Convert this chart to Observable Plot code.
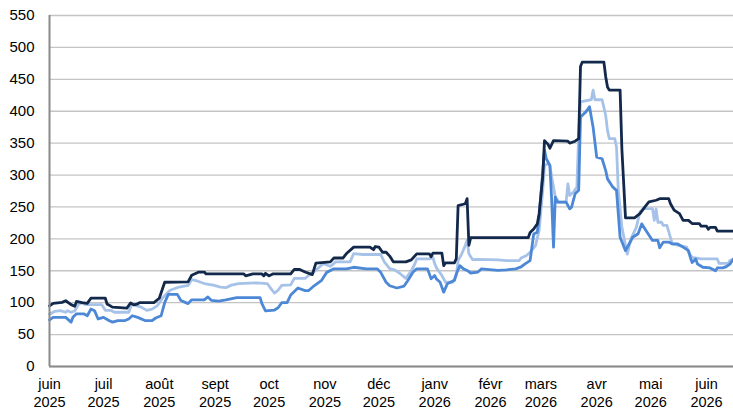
<!DOCTYPE html>
<html><head><meta charset="utf-8">
<script src="https://cdn.jsdelivr.net/npm/d3@7"></script>
<script src="https://cdn.jsdelivr.net/npm/@observablehq/plot@0.6"></script>
<style>body{margin:0;background:#fff;}</style>
</head><body><div id="chart"></div>
<script>
const monthNames = ["janv","févr","mars","avr","mai","juin","juil","août","sept","oct","nov","déc"];
const tickDates = ["2025-06-01","2025-07-01","2025-08-01","2025-09-01","2025-10-01","2025-11-01","2025-12-01","2026-01-01","2026-02-01","2026-03-01","2026-04-01","2026-05-01","2026-06-01"];
const yTicks = [0,50,100,150,200,250,300,350,400,450,500,550];
const xDomain = ["2025-06-01","2026-06-16"];

const dark = [
["2025-06-01",95],["2025-06-03",99],["2025-06-08",100.5],["2025-06-10",103],["2025-06-13",97],["2025-06-15",94.5],["2025-06-16",102],["2025-06-19",100],["2025-06-22",99],["2025-06-24",107],["2025-07-02",107],["2025-07-03",98],["2025-07-06",93],["2025-07-14",91.5],["2025-07-16",99.5],["2025-07-18",96.5],["2025-07-20",98],["2025-07-21",100],["2025-07-29",100],["2025-08-01",107],["2025-08-04",132],["2025-08-17",132.5],["2025-08-19",143],["2025-08-23",148],["2025-08-26",148],["2025-08-27",145],["2025-09-17",145],["2025-09-18",142],["2025-09-22",145],["2025-09-27",145],["2025-09-28",142],["2025-09-29",146],["2025-10-01",142],["2025-10-03",145],["2025-10-13",145],["2025-10-15",152],["2025-10-18",152],["2025-10-21",148],["2025-10-25",144],["2025-10-27",162],["2025-11-04",164],["2025-11-06",170],["2025-11-11",170],["2025-11-13",177],["2025-11-17",187],["2025-11-26",187],["2025-11-28",183],["2025-11-29",188],["2025-12-01",187],["2025-12-03",179],["2025-12-05",179],["2025-12-07",173],["2025-12-09",164],["2025-12-16",164],["2025-12-19",167],["2025-12-22",176.5],["2025-12-29",176.5],["2025-12-30",172],["2025-12-31",177.5],["2026-01-05",177.5],["2026-01-06",158],["2026-01-07",162.5],["2026-01-12",162.5],["2026-01-13",169],["2026-01-14",252],["2026-01-18",255],["2026-01-19",263],["2026-01-20",190],["2026-01-21",202],["2026-02-22",202],["2026-02-23",210],["2026-02-25",215.5],["2026-02-27",223.5],["2026-02-28",239],["2026-03-02",297],["2026-03-03",354],["2026-03-05",348],["2026-03-06",342],["2026-03-08",354],["2026-03-16",353],["2026-03-17",350],["2026-03-20",353],["2026-03-22",357],["2026-03-23",470],["2026-03-24",477],["2026-04-05",477],["2026-04-06",454],["2026-04-07",438],["2026-04-08",433],["2026-04-14",433],["2026-04-15",340],["2026-04-17",233],["2026-04-22",233],["2026-04-25",239.5],["2026-04-28",251],["2026-04-30",258],["2026-05-04",260.5],["2026-05-06",263],["2026-05-11",263],["2026-05-12",255],["2026-05-14",245],["2026-05-17",239.5],["2026-05-19",229],["2026-05-22",229],["2026-05-24",224],["2026-05-28",224],["2026-05-29",220],["2026-06-01",220],["2026-06-02",215],["2026-06-03",218],["2026-06-06",218],["2026-06-07",212],["2026-06-16",212]
];

const light = [
["2025-06-01",82],["2025-06-04",86.5],["2025-06-07",87.5],["2025-06-10",85],["2025-06-11",87.5],["2025-06-13",85],["2025-06-15",87],["2025-06-17",97],["2025-06-19",100],["2025-06-21",97],["2025-06-30",97],["2025-07-02",88],["2025-07-05",88],["2025-07-07",85],["2025-07-15",85],["2025-07-17",99],["2025-07-19",95.5],["2025-07-22",93],["2025-07-25",88],["2025-07-28",90],["2025-07-31",95.5],["2025-08-03",108],["2025-08-07",119.5],["2025-08-12",124.5],["2025-08-17",127],["2025-08-19",136],["2025-08-22",134],["2025-08-26",130],["2025-08-31",127.5],["2025-09-04",124.5],["2025-09-07",123.5],["2025-09-10",127.5],["2025-09-14",130],["2025-09-24",131],["2025-09-30",130],["2025-10-02",122],["2025-10-04",115],["2025-10-06",119.5],["2025-10-08",127],["2025-10-13",128],["2025-10-15",138],["2025-10-21",138],["2025-10-23",143],["2025-10-26",148.5],["2025-10-29",156],["2025-10-31",161],["2025-11-04",157],["2025-11-07",164],["2025-11-15",164],["2025-11-17",177],["2025-11-22",175.5],["2025-12-02",175.5],["2025-12-04",164],["2025-12-07",153.5],["2025-12-10",151],["2025-12-13",145],["2025-12-16",138],["2025-12-19",150],["2025-12-21",161],["2025-12-22",168.5],["2025-12-29",168.5],["2025-12-31",171],["2026-01-01",161],["2026-01-02",154.5],["2026-01-05",142.5],["2026-01-07",132],["2026-01-11",132],["2026-01-13",142.5],["2026-01-14",166],["2026-01-16",176.5],["2026-01-18",189.5],["2026-01-19",198],["2026-01-20",176.5],["2026-01-22",167.5],["2026-01-25",168],["2026-02-05",167],["2026-02-10",166],["2026-02-17",166],["2026-02-18",170],["2026-02-21",174],["2026-02-23",179],["2026-02-26",189.5],["2026-02-28",213],["2026-03-02",276],["2026-03-03",315],["2026-03-05",318],["2026-03-06",315],["2026-03-07",297],["2026-03-09",265.5],["2026-03-11",257.5],["2026-03-15",257.5],["2026-03-16",286],["2026-03-17",268],["2026-03-19",273],["2026-03-21",281],["2026-03-22",365],["2026-03-23",414.5],["2026-03-29",418],["2026-03-30",433],["2026-03-31",418],["2026-04-04",418],["2026-04-06",393.5],["2026-04-07",370],["2026-04-08",357],["2026-04-11",357],["2026-04-12",344],["2026-04-13",276],["2026-04-15",218],["2026-04-18",176],["2026-04-20",200],["2026-04-23",218],["2026-04-25",242],["2026-04-27",247.5],["2026-05-02",247.5],["2026-05-03",229],["2026-05-04",247],["2026-05-05",226],["2026-05-07",226],["2026-05-08",221],["2026-05-10",221],["2026-05-13",192],["2026-05-17",189.5],["2026-05-21",187],["2026-05-22",179],["2026-05-24",171],["2026-05-29",168.5],["2026-06-07",168.5],["2026-06-08",161.5],["2026-06-13",161.5],["2026-06-14",166],["2026-06-16",168.5]
];

const medium = [
["2025-06-01",73],["2025-06-03",77],["2025-06-10",77],["2025-06-13",69.5],["2025-06-14",77],["2025-06-16",82.5],["2025-06-20",82.5],["2025-06-22",79.5],["2025-06-24",90],["2025-06-26",87.5],["2025-06-28",74.5],["2025-07-01",77],["2025-07-04",72],["2025-07-06",69.5],["2025-07-09",72],["2025-07-13",72],["2025-07-15",74.5],["2025-07-17",79.5],["2025-07-20",77],["2025-07-24",72],["2025-07-28",72],["2025-07-30",76],["2025-08-02",79.5],["2025-08-04",100],["2025-08-06",113],["2025-08-11",113],["2025-08-13",103.5],["2025-08-17",98.5],["2025-08-19",104.5],["2025-08-26",104.5],["2025-08-28",109],["2025-08-30",103.5],["2025-09-03",102.5],["2025-09-07",104.5],["2025-09-13",108],["2025-09-26",108],["2025-09-27",98.5],["2025-09-29",87],["2025-10-04",88.5],["2025-10-06",92],["2025-10-08",100],["2025-10-11",100],["2025-10-13",112],["2025-10-17",123],["2025-10-21",119],["2025-10-23",119],["2025-10-26",126.5],["2025-10-30",134.5],["2025-11-02",147.5],["2025-11-06",153],["2025-11-13",153],["2025-11-17",155.5],["2025-11-24",153],["2025-11-30",153],["2025-12-02",147.5],["2025-12-05",132],["2025-12-07",126.5],["2025-12-11",123],["2025-12-15",126],["2025-12-17",134.5],["2025-12-20",148],["2025-12-22",153],["2025-12-28",153],["2025-12-30",137.5],["2026-01-01",142.5],["2026-01-02",137],["2026-01-04",132],["2026-01-06",116.5],["2026-01-08",129.5],["2026-01-12",135],["2026-01-13",145],["2026-01-15",158],["2026-01-17",153],["2026-01-19",150.5],["2026-01-21",146.5],["2026-01-25",148],["2026-01-27",153],["2026-02-05",150.5],["2026-02-10",151.5],["2026-02-15",153],["2026-02-18",156],["2026-02-20",160.5],["2026-02-23",166],["2026-02-25",207.5],["2026-02-27",210.5],["2026-02-28",234],["2026-03-03",339],["2026-03-04",325.5],["2026-03-06",315],["2026-03-07",260],["2026-03-08",187],["2026-03-09",265.5],["2026-03-10",257.5],["2026-03-15",257.5],["2026-03-17",247],["2026-03-18",249.5],["2026-03-20",270.5],["2026-03-22",276],["2026-03-23",391],["2026-03-26",399],["2026-03-28",407],["2026-03-30",375],["2026-04-01",328],["2026-04-04",325.5],["2026-04-06",307],["2026-04-07",294],["2026-04-10",281],["2026-04-12",276],["2026-04-14",202.5],["2026-04-17",181.5],["2026-04-19",192],["2026-04-21",202.5],["2026-04-24",208],["2026-04-26",223.5],["2026-04-29",210.5],["2026-05-02",197.5],["2026-05-05",197.5],["2026-05-06",186],["2026-05-08",195],["2026-05-11",195],["2026-05-13",192],["2026-05-16",192],["2026-05-19",187],["2026-05-22",181.5],["2026-05-23",171],["2026-05-24",163],["2026-05-26",168.5],["2026-05-27",160.5],["2026-05-30",155.5],["2026-06-03",154.5],["2026-06-06",150],["2026-06-07",154.5],["2026-06-10",154.5],["2026-06-12",156.5],["2026-06-14",160.5],["2026-06-16",168.5]
];

const seriesNames = ["light","medium","dark"];
const seriesColors = ["#A7C2E8","#4C88D6","#13294B"];

const rows = [];
[light, medium, dark].forEach((arr, k) => {
  for (const [d, v] of arr) rows.push({series: seriesNames[k], date: new Date(d), value: v});
});

const chart = Plot.plot({
  width: 733, height: 412,
  marginLeft: 49, marginRight: 0, marginTop: 15, marginBottom: 46,
  style: {fontFamily: "'Liberation Sans', Arial, sans-serif", fontSize: "14px", color: "#000", background: "#fff", overflow: "visible"},
  x: {type: "utc", domain: xDomain.map(d => new Date(d))},
  y: {domain: [0, 550]},
  color: {domain: seriesNames, range: seriesColors},
  marks: [
    Plot.gridY(yTicks, {stroke: "#c4c4c4", strokeOpacity: 1, strokeWidth: 1.3}),
    Plot.axisY(yTicks, {tickSize: 0, tickPadding: 15, fontSize: 15, label: null}),
    Plot.axisX(tickDates.map(d => new Date(d)), {
      tickSize: 0, tickPadding: 10, fontSize: 14.5, lineHeight: 1.22, label: null,
      tickFormat: d => monthNames[d.getUTCMonth()] + "\n" + d.getUTCFullYear()
    }),
    Plot.line(rows, {x: "date", y: "value", z: "series", stroke: "series", strokeWidth: 2.8, strokeLinejoin: "round"}),
    Plot.ruleY([0], {stroke: "#8a8a8a", strokeWidth: 2}),
    Plot.ruleX([new Date(xDomain[0])], {stroke: "#8a8a8a", strokeWidth: 2})
  ]
});
document.getElementById("chart").appendChild(chart);
</script>
</body></html>
